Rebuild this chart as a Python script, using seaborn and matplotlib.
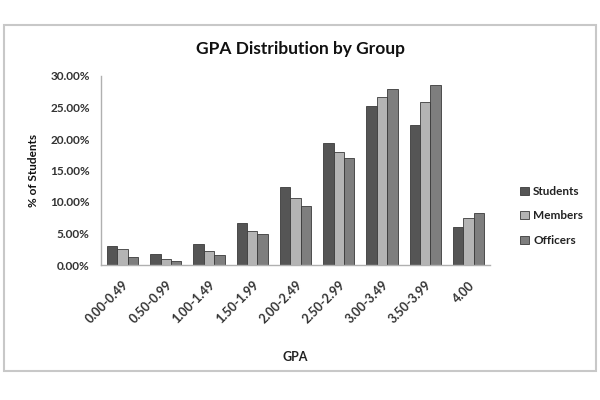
import matplotlib
matplotlib.use("Agg")
import matplotlib.pyplot as plt
import seaborn as sns
import pandas as pd
from matplotlib.patches import Rectangle
from matplotlib.ticker import FuncFormatter

categories = ["0.00-0.49", "0.50-0.99", "1.00-1.49", "1.50-1.99", "2.00-2.49",
              "2.50-2.99", "3.00-3.49", "3.50-3.99", "4.00"]
students = [3.0, 1.7, 3.3, 6.6, 12.4, 19.4, 25.3, 22.2, 6.0]
members = [2.5, 1.0, 2.3, 5.4, 10.7, 18.0, 26.6, 25.9, 7.4]
officers = [1.3, 0.6, 1.6, 5.0, 9.4, 17.0, 27.9, 28.6, 8.2]
series = ["Students", "Members", "Officers"]
y_ticks = [0, 5, 10, 15, 20, 25, 30]

rows = []
for name, vals in zip(series, [students, members, officers]):
    for c, v in zip(categories, vals):
        rows.append({"GPA": c, "Group": name, "Pct": v})
df = pd.DataFrame(rows)

sns.set_style("white")
plt.rcParams["font.family"] = ["Lato", "DejaVu Sans"]

fig = plt.figure(figsize=(6, 4), dpi=100)
ax = fig.add_axes([0.168, 0.3375, 0.649, 0.4725])

palette = {"Students": "#555555", "Members": "#b4b4b4", "Officers": "#7e7e7e"}
sns.barplot(data=df, x="GPA", y="Pct", hue="Group", order=categories,
            hue_order=series, palette=palette, width=0.72, ax=ax,
            edgecolor="#3a3a3a", linewidth=0.6, saturation=1)

ax.set_ylim(0, 30)
ax.set_yticks(y_ticks)
ax.yaxis.set_major_formatter(FuncFormatter(lambda v, p: f"{v:.2f}%"))
ax.set_xlim(-0.5, len(categories) - 0.5)
for s in ["top", "right"]:
    ax.spines[s].set_visible(False)
for s in ["left", "bottom"]:
    ax.spines[s].set_color("#b0b0b0")
    ax.spines[s].set_linewidth(1.0)
ax.tick_params(axis="both", length=0, colors="#333333", labelsize=8.5)
ax.tick_params(axis="y", pad=8)
for lbl in ax.get_yticklabels():
    lbl.set_fontweight("bold")
ax.set_xticks(range(len(categories)))
ax.set_xticklabels(categories, rotation=45, ha="right", rotation_mode="anchor",
                   fontweight="bold", fontsize=9, color="#333333")
ax.tick_params(axis="x", pad=10)

ax.set_xlabel("GPA", fontsize=9, fontweight="bold", color="#222222", labelpad=18)
ax.set_ylabel("% of Students", fontsize=8.5, fontweight="bold", color="#111111", labelpad=8)
fig.text(0.5, 0.878, "GPA Distribution by Group", ha="center", va="center",
         fontsize=12.5, fontweight="bold", color="#111111")

leg = ax.legend(loc="center left", bbox_to_anchor=(1.05, 0.26), frameon=False,
                fontsize=8.5, handlelength=0.7, handleheight=0.7,
                handletextpad=0.4, labelspacing=1.15)
for t in leg.get_texts():
    t.set_fontweight("bold")
    t.set_color("#222222")

fig.patches.append(Rectangle((0.007, 0.073), 0.986, 0.865, transform=fig.transFigure,
                             fill=False, edgecolor="#c8c8c8", linewidth=1.5))

fig.savefig("out.png", dpi=100)
